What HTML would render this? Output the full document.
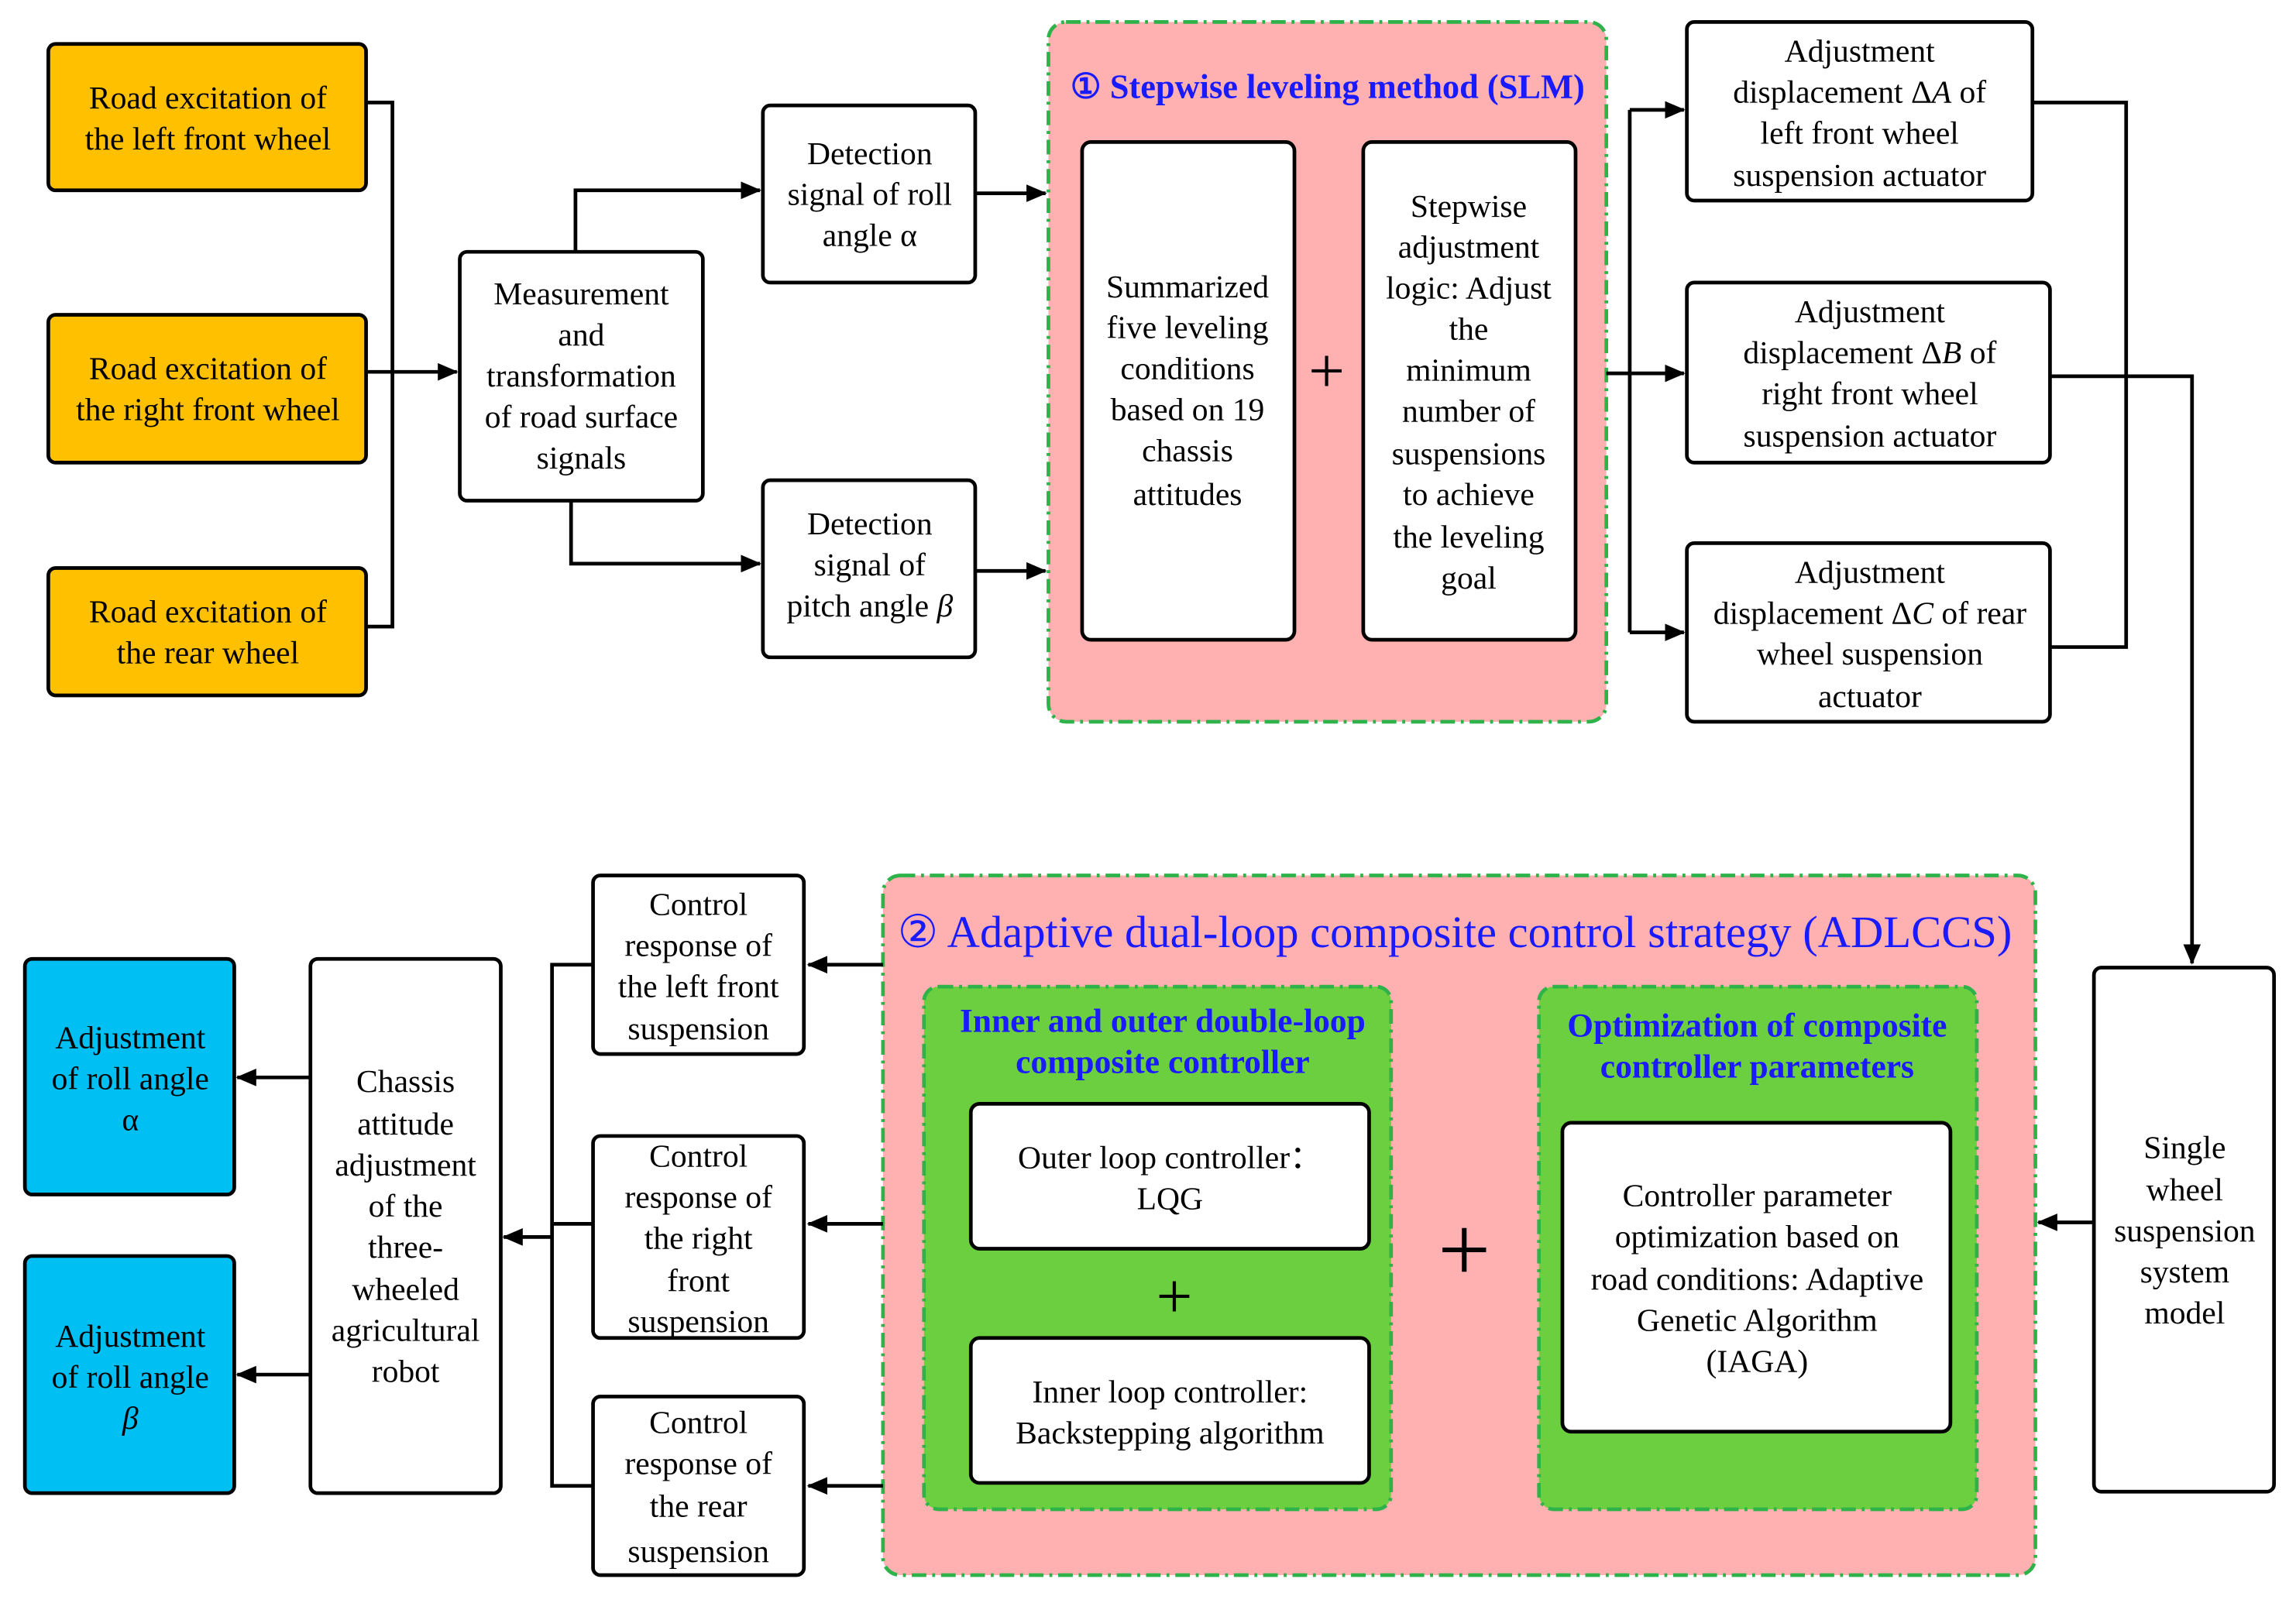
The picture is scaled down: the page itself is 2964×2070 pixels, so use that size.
<!DOCTYPE html>
<html><head><meta charset="utf-8"><style>
html,body{margin:0;padding:0;background:#fff;}
svg{display:block;}
text{font-family:"Liberation Serif",serif;font-size:22px;fill:#000;}
.b{fill:#1a1aff;font-weight:bold;font-size:23px;}
</style></head><body>
<svg width="2964" height="2070" viewBox="0 0 1568 1095" xmlns="http://www.w3.org/2000/svg">
<defs><marker id="a" markerWidth="14" markerHeight="12" refX="13" refY="6" orient="auto" markerUnits="userSpaceOnUse"><path d="M0,0 L14,6 L0,12 z" fill="#000"/></marker></defs>
<g stroke="#000" stroke-width="2.5" fill="none">
<rect x="33" y="30" width="217" height="100" rx="5" fill="#FFC000"/>
<rect x="33" y="215" width="217" height="101" rx="5" fill="#FFC000"/>
<rect x="33" y="388" width="217" height="87" rx="5" fill="#FFC000"/>
<polyline points="250,70 268,70 268,428 250,428"/>
<line x1="250" y1="254" x2="312" y2="254" marker-end="url(#a)"/>
<rect x="314" y="172" width="166" height="170" rx="5" fill="#fff"/>
<polyline points="393,172 393,130 519,130" marker-end="url(#a)"/>
<polyline points="390,342 390,385 519,385" marker-end="url(#a)"/>
<rect x="521" y="72" width="145" height="121" rx="5" fill="#fff"/>
<rect x="521" y="328" width="145" height="121" rx="5" fill="#fff"/>
<line x1="666" y1="132" x2="714" y2="132" marker-end="url(#a)"/>
<line x1="666" y1="390" x2="714" y2="390" marker-end="url(#a)"/>
<rect x="716" y="15" width="381" height="478" rx="12" fill="#FFB0B0" stroke="#2DB34A" stroke-dasharray="10,4,2,4"/>
<rect x="739" y="97" width="145" height="340" rx="6" fill="#fff"/>
<rect x="931" y="97" width="145" height="340" rx="6" fill="#fff"/>
<line x1="1097" y1="255" x2="1113" y2="255"/>
<line x1="1113" y1="75" x2="1113" y2="432"/>
<line x1="1113" y1="75" x2="1150" y2="75" marker-end="url(#a)"/>
<line x1="1113" y1="255" x2="1150" y2="255" marker-end="url(#a)"/>
<line x1="1113" y1="432" x2="1150" y2="432" marker-end="url(#a)"/>
<rect x="1152" y="15" width="236" height="122" rx="5" fill="#fff"/>
<rect x="1152" y="193" width="248" height="123" rx="5" fill="#fff"/>
<rect x="1152" y="371" width="248" height="122" rx="5" fill="#fff"/>
<polyline points="1388,70 1452,70 1452,442 1400,442"/>
<polyline points="1400,257 1497,257 1497,658" marker-end="url(#a)"/>
<rect x="1430" y="661" width="123" height="358" rx="5" fill="#fff"/>
<line x1="1430" y1="835" x2="1392" y2="835" marker-end="url(#a)"/>
<rect x="603" y="598" width="787" height="478" rx="12" fill="#FFB0B0" stroke="#2DB34A" stroke-dasharray="10,4,2,4"/>
<rect x="631" y="674" width="319" height="357" rx="10" fill="#6CCF3F" stroke="#2DB34A" stroke-dasharray="10,4,2,4"/>
<rect x="663" y="754" width="272" height="99" rx="6" fill="#fff"/>
<rect x="663" y="914" width="272" height="99" rx="6" fill="#fff"/>
<rect x="1051" y="674" width="299" height="357" rx="10" fill="#6CCF3F" stroke="#2DB34A" stroke-dasharray="10,4,2,4"/>
<rect x="1067" y="767" width="265" height="211" rx="6" fill="#fff"/>
<line x1="603" y1="659" x2="552" y2="659" marker-end="url(#a)"/>
<line x1="603" y1="836" x2="552" y2="836" marker-end="url(#a)"/>
<line x1="603" y1="1015" x2="552" y2="1015" marker-end="url(#a)"/>
<rect x="405" y="598" width="144" height="122" rx="5" fill="#fff"/>
<rect x="405" y="776" width="144" height="138" rx="5" fill="#fff"/>
<rect x="405" y="954" width="144" height="122" rx="5" fill="#fff"/>
<polyline points="405,659 377,659 377,1015 405,1015"/>
<line x1="377" y1="836" x2="405" y2="836"/>
<line x1="377" y1="845" x2="344" y2="845" marker-end="url(#a)"/>
<rect x="212" y="655" width="130" height="365" rx="5" fill="#fff"/>
<line x1="212" y1="736" x2="162" y2="736" marker-end="url(#a)"/>
<line x1="212" y1="939" x2="162" y2="939" marker-end="url(#a)"/>
<rect x="17" y="655" width="143" height="161" rx="5" fill="#00BFF3"/>
<rect x="17" y="858" width="143" height="162" rx="5" fill="#00BFF3"/>
</g>
<g text-anchor="middle">
<text x="142" y="74">Road excitation of</text><text x="142" y="102">the left front wheel</text>
<text x="142" y="259">Road excitation of</text><text x="142" y="287">the right front wheel</text>
<text x="142" y="425">Road excitation of</text><text x="142" y="453">the rear wheel</text>
<text x="397" y="208">Measurement</text><text x="397" y="236">and</text><text x="397" y="264">transformation</text><text x="397" y="292">of road surface</text><text x="397" y="320">signals</text>
<text x="594" y="112">Detection</text><text x="594" y="140">signal of roll</text><text x="594" y="168">angle α</text>
<text x="594" y="365">Detection</text><text x="594" y="393">signal of</text><text x="594" y="421">pitch angle <tspan font-style="italic">β</tspan></text>
<text x="811" y="203">Summarized</text><text x="811" y="231">five leveling</text><text x="811" y="259">conditions</text><text x="811" y="287">based on 19</text><text x="811" y="315">chassis</text><text x="811" y="345">attitudes</text>
<text x="1003" y="148">Stepwise</text><text x="1003" y="176">adjustment</text><text x="1003" y="204">logic: Adjust</text><text x="1003" y="232">the</text><text x="1003" y="260">minimum</text><text x="1003" y="288">number of</text><text x="1003" y="317">suspensions</text><text x="1003" y="345">to achieve</text><text x="1003" y="374">the leveling</text><text x="1003" y="402">goal</text>
<text x="906" y="268" style="font-size:44px">+</text>
<text x="1270" y="42">Adjustment</text><text x="1270" y="70">displacement Δ<tspan font-style="italic">A</tspan> of</text><text x="1270" y="98">left front wheel</text><text x="1270" y="127">suspension actuator</text>
<text x="1277" y="220">Adjustment</text><text x="1277" y="248">displacement Δ<tspan font-style="italic">B</tspan> of</text><text x="1277" y="276">right front wheel</text><text x="1277" y="305">suspension actuator</text>
<text x="1277" y="398">Adjustment</text><text x="1277" y="426">displacement Δ<tspan font-style="italic">C</tspan> of rear</text><text x="1277" y="454">wheel suspension</text><text x="1277" y="483">actuator</text>
<text x="1492" y="791">Single</text><text x="1492" y="820">wheel</text><text x="1492" y="848">suspension</text><text x="1492" y="876">system</text><text x="1492" y="904">model</text>
<text x="794" y="705" class="b">Inner and outer double-loop</text><text x="794" y="733" class="b">composite controller</text>
<text x="799" y="798">Outer loop controller：</text><text x="799" y="826">LQG</text>
<text x="802" y="900" style="font-size:44px">+</text>
<text x="799" y="958">Inner loop controller:</text><text x="799" y="986">Backstepping algorithm</text>
<text x="1000" y="875" style="font-size:64px">+</text>
<text x="1200" y="708" class="b">Optimization of composite</text><text x="1200" y="736" class="b">controller parameters</text>
<text x="1200" y="824">Controller parameter</text><text x="1200" y="852">optimization based on</text><text x="1200" y="881">road conditions: Adaptive</text><text x="1200" y="909">Genetic Algorithm</text><text x="1200" y="937">(IAGA)</text>
<text x="477" y="625">Control</text><text x="477" y="653">response of</text><text x="477" y="681">the left front</text><text x="477" y="710">suspension</text>
<text x="477" y="797">Control</text><text x="477" y="825">response of</text><text x="477" y="853">the right</text><text x="477" y="882">front</text><text x="477" y="910">suspension</text>
<text x="477" y="979">Control</text><text x="477" y="1007">response of</text><text x="477" y="1036">the rear</text><text x="477" y="1067">suspension</text>
<text x="277" y="746">Chassis</text><text x="277" y="775">attitude</text><text x="277" y="803">adjustment</text><text x="277" y="831">of the</text><text x="277" y="859">three-</text><text x="277" y="888">wheeled</text><text x="277" y="916">agricultural</text><text x="277" y="944">robot</text>
<text x="89" y="716">Adjustment</text><text x="89" y="744">of roll angle</text><text x="89" y="772">α</text>
<text x="89" y="920">Adjustment</text><text x="89" y="948">of roll angle</text><text x="89" y="976" font-style="italic">β</text>
</g>
<text x="731" y="67" class="b" style="font-size:23.5px">① Stepwise leveling method (SLM)</text>
<text x="613" y="647" style="font-size:31px;fill:#1a1aff">② Adaptive dual-loop composite control strategy (ADLCCS)</text>
</svg>
</body></html>
